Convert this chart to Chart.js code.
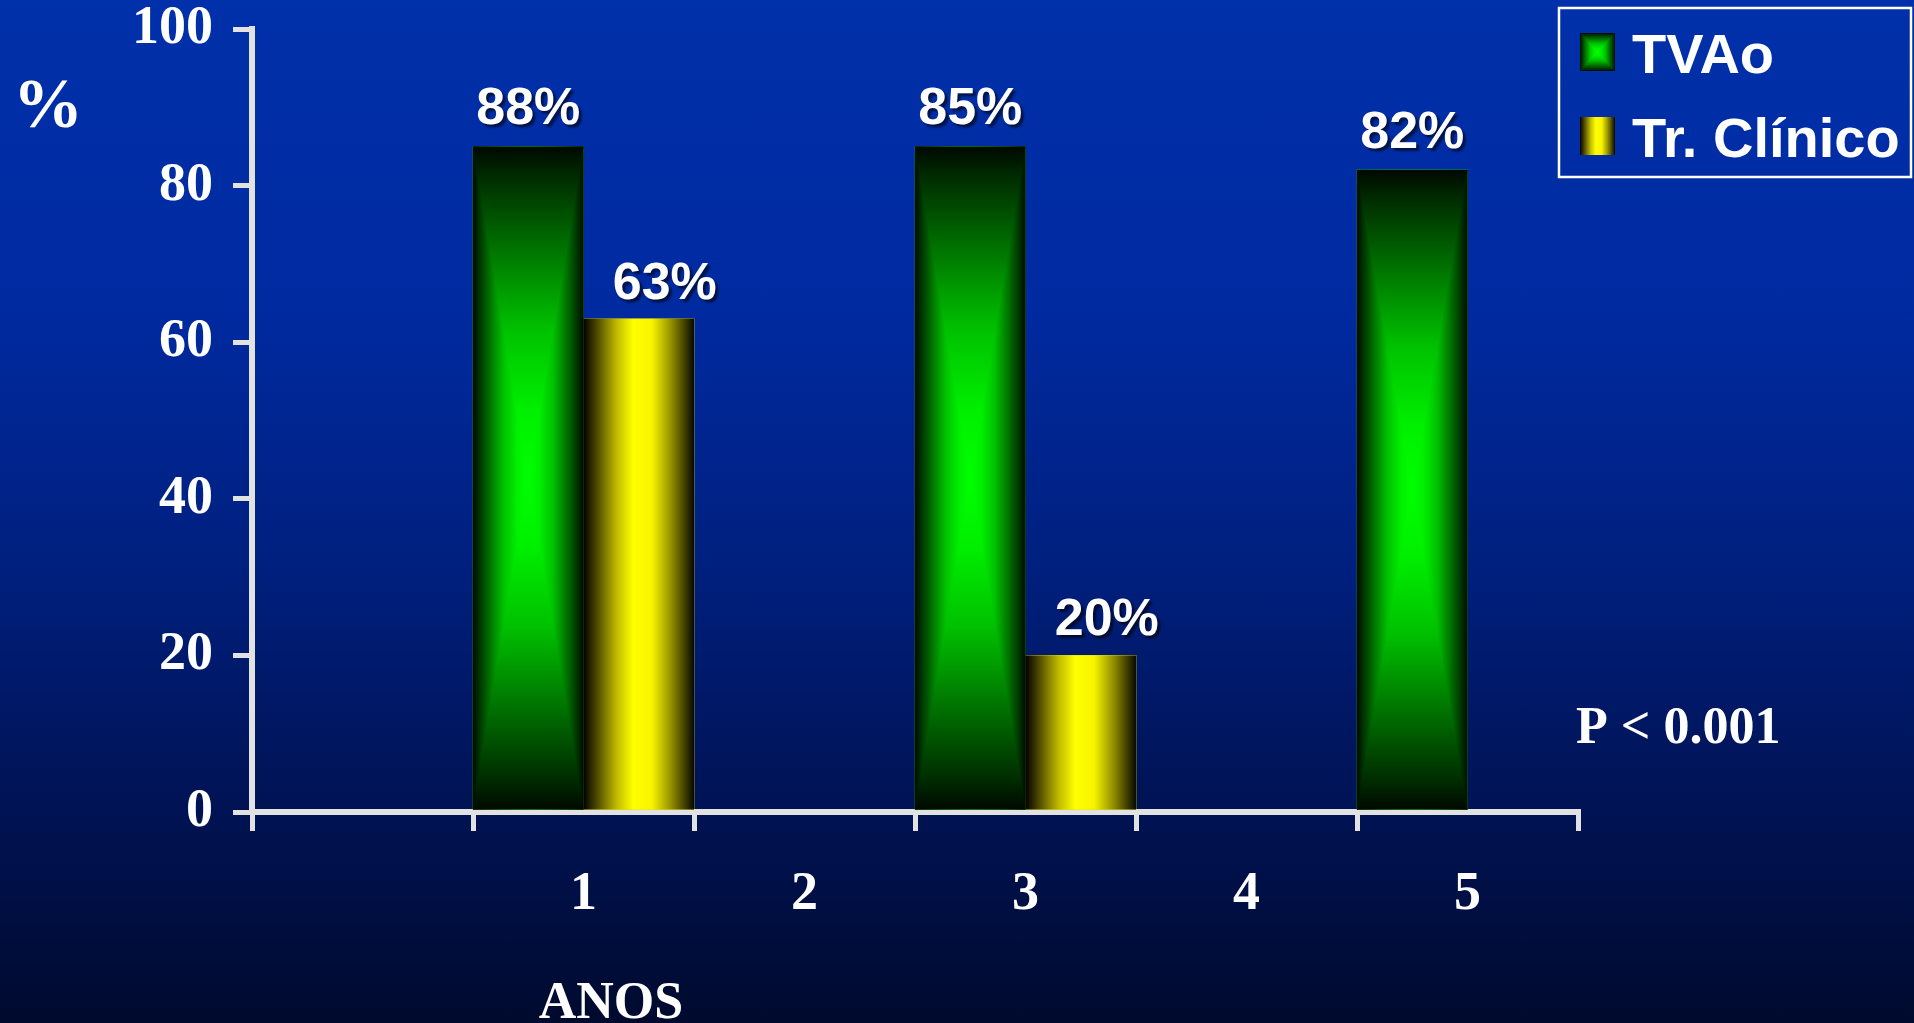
<!DOCTYPE html>
<html>
<head>
<meta charset="utf-8">
<script src="https://cdn.jsdelivr.net/npm/chart.js@4.4.0/dist/chart.umd.min.js"></script>
<style>
html,body{margin:0;padding:0;width:1914px;height:1023px;overflow:hidden;
  background:linear-gradient(to bottom,#0030aa 0%,#002aa0 30%,#00207f 55%,#001a6c 65%,#001252 80%,#000e40 90%,#000a2e 100%);}
canvas{display:block}
</style>
</head>
<body>
<canvas id="chart" width="1914" height="1023"></canvas>
<script>
// data
const categories = ["", "1", "2", "3", "4", "5"];
const tvaoValues = [null, 85, null, 85, null, 82];
const clinicoValues = [null, 63, null, 20, null, null];
const tvaoLabels = [null, "88%", null, "85%", null, "82%"];
const clinicoLabels = [null, "63%", null, "20%", null, null];
const yTicks = [0, 20, 40, 60, 80, 100];
const seriesNames = ["TVAo", "Tr. Clínico"];
const yTitle = "%";
const xTitle = "ANOS";
const pNote = "P < 0.001";

const AXIS = "#e2e2e2";
const SERIF = "'Liberation Serif', 'Times New Roman', serif";
const SANS = "'Liberation Sans', Arial, sans-serif";

const GREEN_STOPS = [[0,"#000800"],[0.08,"#002800"],[0.3,"#007000"],[0.55,"#00c000"],[0.8,"#00f000"],[1,"#00ff00"]];
const YELLOW_STOPS = [[0,"#000000"],[0.1,"#403c00"],[0.3,"#c0ba00"],[0.45,"#ffff00"],[0.62,"#f8f400"],[0.8,"#908c00"],[1,"#080800"]];

function mirrored(stops){
  const out = [];
  stops.forEach(s => out.push([s[0]/2, s[1]]));
  stops.slice().reverse().forEach(s => out.push([1 - s[0]/2, s[1]]));
  return out;
}

// rectangular "from centre" shade, like the slide's green bars
function fillPathGradient(ctx, x0, y0, x1, y1, stops){
  const cx = (x0+x1)/2, cy = (y0+y1)/2;
  const h = ctx.createLinearGradient(x0, 0, x1, 0);
  mirrored(stops).forEach(s => h.addColorStop(s[0], s[1]));
  ctx.fillStyle = h;
  ctx.fillRect(x0, y0, x1-x0, y1-y0);
  [[y0, cy], [y1, cy]].forEach(([ey, my]) => {
    const g = ctx.createLinearGradient(0, ey, 0, my);
    stops.forEach(s => g.addColorStop(s[0], s[1]));
    ctx.fillStyle = g;
    ctx.beginPath();
    ctx.moveTo(x0, ey); ctx.lineTo(x1, ey); ctx.lineTo(cx, cy); ctx.closePath();
    ctx.fill();
  });
}

function fillSideGradient(ctx, x0, y0, x1, y1, stops){
  const g = ctx.createLinearGradient(x0, 0, x1, 0);
  stops.forEach(s => g.addColorStop(s[0], s[1]));
  ctx.fillStyle = g;
  ctx.fillRect(x0, y0, x1-x0, y1-y0);
}

const barShading = {
  id: "barShading",
  afterDatasetsDraw(chart){
    const ctx = chart.ctx;
    ctx.save();
    chart.data.datasets.forEach((ds, i) => {
      chart.getDatasetMeta(i).data.forEach((bar, j) => {
        if (ds.data[j] == null) return;
        const p = bar.getProps(["x","y","base","width"], true);
        const x0 = p.x - p.width/2, x1 = p.x + p.width/2;
        const y0 = Math.min(p.y, p.base), y1 = Math.max(p.y, p.base);
        if (i === 0) fillPathGradient(ctx, x0, y0, x1, y1, GREEN_STOPS);
        else fillSideGradient(ctx, x0, y0, x1, y1, YELLOW_STOPS);
      });
    });
    ctx.restore();
  }
};

const extras = {
  id: "extras",
  afterDraw(chart){
    const ctx = chart.ctx;
    ctx.save();
    // value labels
    ctx.font = "bold 52px " + SANS;
    ctx.textAlign = "center";
    ctx.textBaseline = "alphabetic";
    ctx.fillStyle = "#ffffff";
    ctx.shadowColor = "rgba(0,0,0,0.55)";
    ctx.shadowOffsetX = 3; ctx.shadowOffsetY = 3; ctx.shadowBlur = 2;
    const labelSets = [[tvaoLabels, 0, 22], [clinicoLabels, 26, 20]];
    labelSets.forEach(([labels, dx, gap], i) => {
      chart.getDatasetMeta(i).data.forEach((bar, j) => {
        if (!labels[j]) return;
        ctx.fillText(labels[j], bar.x + dx, bar.y - gap);
      });
    });
    ctx.shadowColor = "transparent";

    // serif notes
    ctx.textAlign = "center";
    ctx.font = "bold 70px " + SERIF;
    ctx.fillText(yTitle, 48, 127);
    ctx.font = "bold 52px " + SERIF;
    ctx.fillText(xTitle, 611, 1018);
    ctx.textAlign = "left";
    ctx.fillText(pNote, 1576, 743);

    // legend
    ctx.strokeStyle = "#ffffff";
    ctx.lineWidth = 2.5;
    ctx.strokeRect(1559, 8, 352, 169);
    fillPathGradient(ctx, 1580, 33, 1615, 71, GREEN_STOPS);
    fillSideGradient(ctx, 1580, 117, 1615, 155, YELLOW_STOPS);
    ctx.font = "bold 56px " + SANS;
    ctx.fillStyle = "#ffffff";
    ctx.textAlign = "left";
    ctx.fillText(seriesNames[0], 1632, 73);
    ctx.fillText(seriesNames[1], 1632, 157);
    ctx.restore();
  }
};

const tickFont = { family: SERIF, weight: "bold", size: 54, lineHeight: 1 };

new Chart(document.getElementById("chart"), {
  type: "bar",
  data: {
    labels: categories,
    datasets: [
      { label: seriesNames[0], data: tvaoValues, backgroundColor: "#00a000", borderWidth: 0, categoryPercentage: 1, barPercentage: 1 },
      { label: seriesNames[1], data: clinicoValues, backgroundColor: "#d8d800", borderWidth: 0, categoryPercentage: 1, barPercentage: 1 }
    ]
  },
  options: {
    responsive: false,
    animation: false,
    devicePixelRatio: 1,
    layout: { padding: { left: 0, right: 336, top: 29, bottom: 0 } },
    plugins: { legend: { display: false }, tooltip: { enabled: false } },
    scales: {
      x: {
        z: 1,
        offset: true,
        grid: { offset: true, drawOnChartArea: false, tickLength: 19, color: AXIS, lineWidth: 5 },
        border: { color: AXIS, width: 6 },
        ticks: { color: "#ffffff", font: tickFont, padding: 37, maxRotation: 0, autoSkip: false },
        afterFit(s){ s.height = 211; s.paddingLeft = 0; s.paddingRight = 0; }
      },
      y: {
        z: 1,
        min: 0, max: 100,
        afterBuildTicks(s){ s.ticks = yTicks.map(v => ({ value: v })); },
        grid: { drawOnChartArea: false, tickLength: 19, color: AXIS, lineWidth: 5 },
        border: { color: AXIS, width: 6 },
        ticks: { color: "#ffffff", font: tickFont, padding: 20 },
        afterFit(s){ s.width = 252; s.paddingTop = 0; s.paddingBottom = 0; }
      }
    }
  },
  plugins: [barShading, extras]
});
</script>
</body>
</html>
